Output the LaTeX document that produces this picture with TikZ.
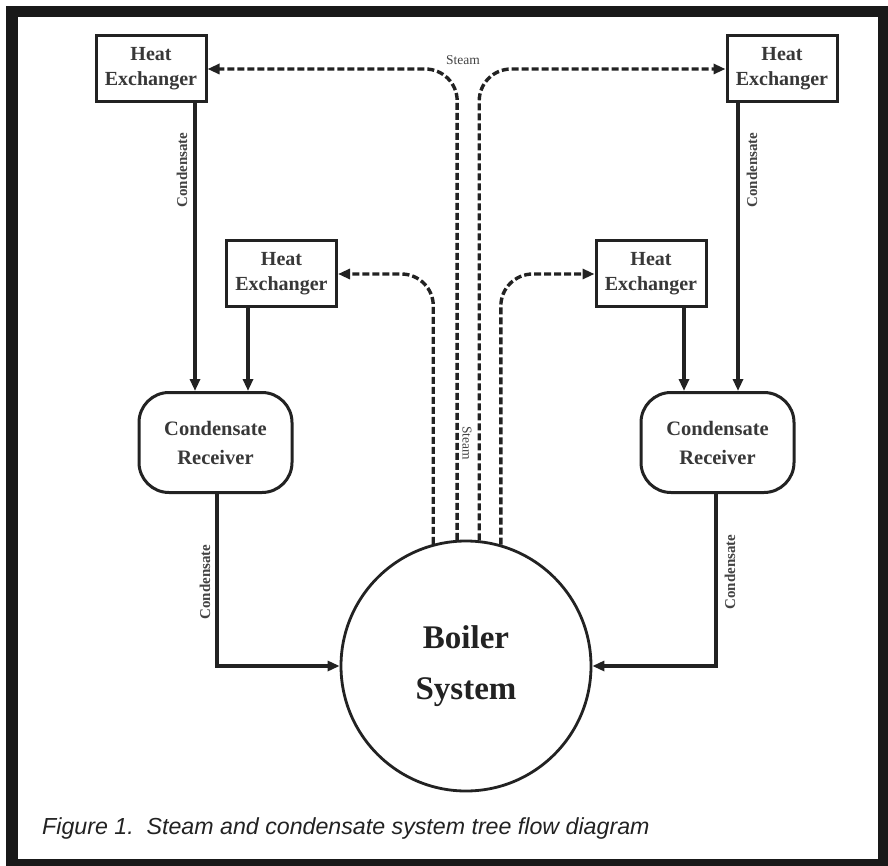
\documentclass[tikz,border=0pt]{standalone}
\usepackage{fontspec}
\setmainfont{Liberation Serif}
\newfontfamily\capfont{Liberation Sans}
\usetikzlibrary{arrows.meta,calc}
\definecolor{ink}{HTML}{222222}
\begin{document}
\begin{tikzpicture}[x=1pt,y=-1pt,
  hxbox/.style={draw=ink,line width=3pt,minimum width=110pt,minimum height=66pt,inner sep=0pt,align=center,
    font=\fontsize{20}{25}\selectfont\bfseries,text=ink!90},
  recbox/.style={draw=ink,line width=3pt,rounded corners=30pt,minimum width=153pt,minimum height=100pt,inner sep=0pt,align=center,
    font=\fontsize{20.5}{29}\selectfont\bfseries,text=ink!90},
  boilerc/.style={draw=ink,line width=2.8pt,circle,minimum size=250pt,inner sep=0pt,align=center,
    font=\fontsize{33}{51}\selectfont\bfseries,text=ink},
  flow/.style={draw=ink,line width=3.2pt,-{Triangle[length=12pt,width=10pt]}},
  steam/.style={draw=ink,line width=3.4pt,dash pattern=on 7pt off 3pt,rounded corners=32pt,-{Triangle[length=12pt,width=10pt]}},
  lbl/.style={font=\fontsize{15}{17}\selectfont\bfseries,text=ink!85,inner sep=0pt},
  stlbl/.style={font=\fontsize{13.5}{15}\selectfont,text=ink!85,inner sep=0pt}]
\useasboundingbox (0,0) rectangle (888,866);
\fill[white] (0,0) rectangle (888,866);
\fill[black!90] (6,6) rectangle (888,866);
\fill[white] (18,17) rectangle (878,859);

% nodes
\node[hxbox] (hxTL) at (151,69) {Heat\\Exchanger};
\node[hxbox] (hxTR) at (782,69) {Heat\\Exchanger};
\node[hxbox] (hxML) at (281.5,274) {Heat\\Exchanger};
\node[hxbox] (hxMR) at (651,274) {Heat\\Exchanger};
\node[recbox] (recL) at (215.5,442.5) {Condensate\\Receiver};
\node[recbox] (recR) at (717.5,442.5) {Condensate\\Receiver};
\node[boilerc] (boiler) at (466,666) {Boiler\\System};

% x positions of the condensate lines
\coordinate (xA) at (195,0);
\coordinate (xB) at (248,0);
\coordinate (xC) at (684,0);
\coordinate (xD) at (738,0);
\coordinate (xE) at (217,0);
\coordinate (xF) at (716,0);

% condensate to receivers
\draw[flow] (hxTL.south -| xA) -- (recL.north -| xA);
\draw[flow] (hxML.south -| xB) -- (recL.north -| xB);
\draw[flow] (hxMR.south -| xC) -- (recR.north -| xC);
\draw[flow] (hxTR.south -| xD) -- (recR.north -| xD);

% receivers to boiler
\draw[flow] (recL.south -| xE) |- (boiler.west);
\draw[flow] (recR.south -| xF) |- (boiler.east);

% steam lines
\draw[steam] (boiler.105.3) |- (hxML.east);
\draw[steam] (boiler.94.6) |- (hxTL.east);
\draw[steam] (boiler.84.95) |- (hxTR.west);
\draw[steam] (boiler.74.7) |- (hxMR.west);

% labels
\node[stlbl] (stTop) at (463,60) {Steam};
\node[stlbl,rotate=-90] (stMid) at (467,443) {Steam};
\node[lbl,rotate=90] (cTL) at (182,170) {Condensate};
\node[lbl,rotate=90] (cTR) at (752,170) {Condensate};
\node[lbl,rotate=90] (cBL) at (205,582) {Condensate};
\node[lbl,rotate=90] (cBR) at (730,572) {Condensate};

% caption
\node[anchor=base west,inner sep=0pt,font=\capfont\itshape\fontsize{23.2}{26}\selectfont,text=ink] (cap) at (42,834)
  {Figure 1.\ \ Steam and condensate system tree flow diagram};
\end{tikzpicture}
\end{document}
